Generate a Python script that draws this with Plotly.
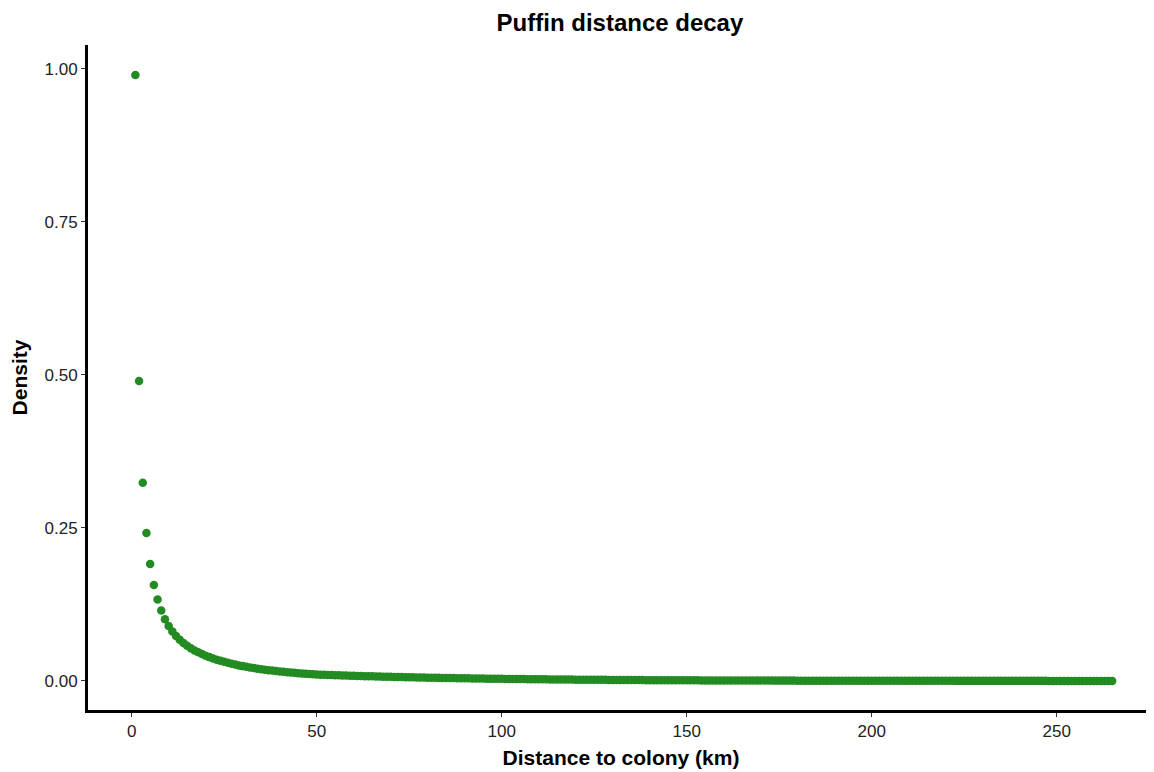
import plotly.graph_objects as go

distance_km = list(range(1, 266))

density = [
    0.990, 0.490, 0.324, 0.242, 0.191, 0.157, 0.133, 0.115, 0.101, 0.090,
    0.081, 0.0735, 0.0675, 0.0620, 0.0575, 0.0535, 0.0500, 0.0468, 0.0440, 0.0414,
    0.0390, 0.0368, 0.0348, 0.0330, 0.0313, 0.0297, 0.0282, 0.0268, 0.0255, 0.0243,
    0.0232, 0.0221, 0.0211, 0.0202, 0.0193, 0.0185, 0.0177, 0.0170, 0.0163, 0.0156,
    0.0150, 0.0144, 0.0138, 0.0133, 0.0128, 0.0123, 0.0118, 0.0114, 0.0110, 0.0106,
    0.0104, 0.0101, 0.0099, 0.0097, 0.0095, 0.0093, 0.0091, 0.0089, 0.0087, 0.0085,
    0.0083, 0.0081, 0.0079, 0.0078, 0.0076, 0.0074, 0.0073, 0.0071, 0.0070, 0.0068,
    0.0067, 0.0065, 0.0064, 0.0062, 0.0061, 0.0060, 0.0058, 0.0057, 0.0056, 0.0055,
    0.0053, 0.0052, 0.0051, 0.0050, 0.0049, 0.0048, 0.0047, 0.0046, 0.0045, 0.0044,
    0.0043, 0.0042, 0.0041, 0.0040, 0.0039, 0.0038, 0.0037, 0.0037, 0.0036, 0.0035,
    0.0034, 0.0033, 0.0033, 0.0032, 0.0031, 0.0031, 0.0030, 0.0029, 0.0029, 0.0028,
    0.0027, 0.0027, 0.0026, 0.0026, 0.0025, 0.0024, 0.0024, 0.0023, 0.0023, 0.0022,
    0.0022, 0.0021, 0.0021, 0.0020, 0.0020, 0.0019, 0.0019, 0.0019, 0.0018, 0.0018,
    0.0017, 0.0017, 0.0017, 0.0016, 0.0016, 0.0015, 0.0015, 0.0015, 0.0014, 0.0014,
    0.0014, 0.0013, 0.0013, 0.0013, 0.0013, 0.0012, 0.0012, 0.0012, 0.0012, 0.0011,
    0.0011, 0.0011, 0.0011, 0.0010, 0.0010, 0.0010, 0.0010, 0.0009, 0.0009, 0.0009,
    0.0009, 0.0009, 0.0008, 0.0008, 0.0008, 0.0008, 0.0008, 0.0007, 0.0007, 0.0007,
    0.0007, 0.0007, 0.0007, 0.0006, 0.0006, 0.0006, 0.0006, 0.0006, 0.0006, 0.0005,
    0.0005, 0.0005, 0.0005, 0.0005, 0.0005, 0.0005, 0.0005, 0.0004, 0.0004, 0.0004,
    0.0004, 0.0004, 0.0004, 0.0004, 0.0004, 0.0004, 0.0004, 0.0003, 0.0003, 0.0003,
    0.0003, 0.0003, 0.0003, 0.0003, 0.0003, 0.0003, 0.0003, 0.0003, 0.0003, 0.0003,
    0.0003, 0.0003, 0.0003, 0.0003, 0.0003, 0.0003, 0.0003, 0.0003, 0.0003, 0.0003,
    0.0003, 0.0003, 0.0002, 0.0002, 0.0002, 0.0002, 0.0002, 0.0002, 0.0002, 0.0002,
    0.0002, 0.0002, 0.0002, 0.0002, 0.0002, 0.0002, 0.0002, 0.0002, 0.0002, 0.0002,
    0.0002, 0.0002, 0.0002, 0.0002, 0.0002, 0.0002, 0.0002, 0.0001, 0.0001, 0.0001,
    0.0001, 0.0001, 0.0001, 0.0001, 0.0001, 0.0001, 0.0001, 0.0001, 0.0001, 0.0001,
    0.0001, 0.0001, 0.0001, 0.0001, 0.0001,
]

x_ticks = [0, 50, 100, 150, 200, 250]
y_ticks = [0.00, 0.25, 0.50, 0.75, 1.00]
y_tick_labels = ["0.00", "0.25", "0.50", "0.75", "1.00"]

FONT = "Liberation Sans, Arial, sans-serif"

fig = go.Figure(
    go.Scatter(
        x=distance_km,
        y=density,
        mode="markers",
        marker=dict(color="#228B22", size=8.5, line=dict(width=0)),
        showlegend=False,
    )
)

fig.update_layout(
    width=1146,
    height=764,
    margin=dict(l=80, r=0, t=37, b=62, autoexpand=False),
    paper_bgcolor="white",
    plot_bgcolor="white",
    font=dict(family=FONT, color="black"),
    title=dict(
        text="Puffin distance decay",
        x=0.534, xanchor="center", xref="container",
        y=0.981, yanchor="middle", yref="container",
        font=dict(size=24, family=FONT, weight="bold", color="black"),
    ),
)

fig.update_xaxes(
    range=[-11.8, 276.3],
    tickvals=x_ticks,
    showgrid=False,
    zeroline=False,
    showline=True,
    linecolor="black",
    linewidth=3,
    ticks="outside",
    ticklen=4,
    tickwidth=1,
    tickcolor="#333333",
    tickfont=dict(size=17, family=FONT, color="#222222"),
    automargin=False,
    title=dict(
        text="Distance to colony (km)",
        font=dict(size=21, family=FONT, weight="bold", color="black"),
        standoff=10,
    ),
)

fig.update_yaxes(
    range=[-0.0474, 1.0392],
    tickvals=y_ticks,
    ticktext=y_tick_labels,
    showgrid=False,
    zeroline=False,
    showline=True,
    linecolor="black",
    linewidth=3,
    ticks="outside",
    ticklen=4,
    tickwidth=1,
    tickcolor="#333333",
    tickfont=dict(size=17, family=FONT, color="#222222"),
    automargin=False,
    title=dict(
        text="Density",
        font=dict(size=21, family=FONT, weight="bold", color="black"),
        standoff=14,
    ),
)

fig.write_html("out.html")
